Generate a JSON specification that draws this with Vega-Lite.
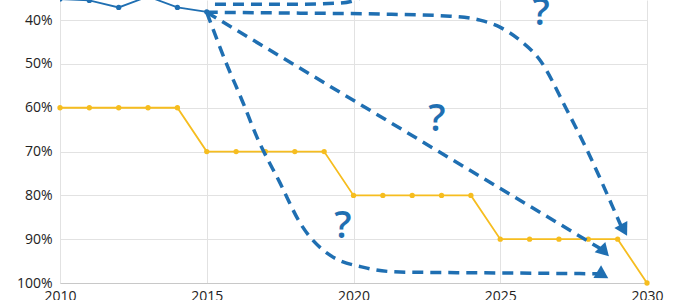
{
  "$schema": "https://vega.github.io/schema/vega-lite/v6.json",
  "width": 587,
  "height": 283,
  "autosize": {"type": "none"},
  "padding": {"left": 60, "top": 0, "right": 53, "bottom": 17},
  "background": "white",
  "config": {
    "view": {"stroke": null},
    "font": "Open Sans",
    "axis": {"labelFont": "Open Sans", "labelFontSize": 14, "labelColor": "#222222", "gridColor": "#e2e2e2", "gridWidth": 1, "ticks": false, "title": null}
  },
  "datasets": {
    "target": [
      {"year": 2010, "pct": 60}, {"year": 2011, "pct": 60}, {"year": 2012, "pct": 60}, {"year": 2013, "pct": 60}, {"year": 2014, "pct": 60},
      {"year": 2015, "pct": 70}, {"year": 2016, "pct": 70}, {"year": 2017, "pct": 70}, {"year": 2018, "pct": 70}, {"year": 2019, "pct": 70},
      {"year": 2020, "pct": 80}, {"year": 2021, "pct": 80}, {"year": 2022, "pct": 80}, {"year": 2023, "pct": 80}, {"year": 2024, "pct": 80},
      {"year": 2025, "pct": 90}, {"year": 2026, "pct": 90}, {"year": 2027, "pct": 90}, {"year": 2028, "pct": 90}, {"year": 2029, "pct": 90},
      {"year": 2030, "pct": 100}
    ],
    "actual": [
      {"year": 2010, "pct": 35.2}, {"year": 2011, "pct": 35.5}, {"year": 2012, "pct": 37.1},
      {"year": 2013, "pct": 34.6}, {"year": 2014, "pct": 37.1}, {"year": 2015, "pct": 38.1}
    ],
    "paths": [
      {"route": "A", "year": 2015.28, "pct": 36.35},
      {"route": "A", "year": 2018.18, "pct": 36.35},
      {"route": "A", "year": 2019.54, "pct": 36.1},
      {"route": "A", "year": 2020.2, "pct": 35.0},
      {"route": "A", "year": 2020.7, "pct": 32.0},
      {"route": "B", "year": 2015.0, "pct": 38.2},
      {"route": "B", "year": 2018.18, "pct": 38.4},
      {"route": "B", "year": 2020.9, "pct": 38.6},
      {"route": "B", "year": 2023.29, "pct": 39.1},
      {"route": "B", "year": 2024.31, "pct": 40.0},
      {"route": "B", "year": 2024.99, "pct": 41.6},
      {"route": "B", "year": 2025.67, "pct": 44.6},
      {"route": "B", "year": 2026.35, "pct": 49.1},
      {"route": "B", "year": 2027.27, "pct": 60.5},
      {"route": "B", "year": 2027.96, "pct": 69.7},
      {"route": "B", "year": 2028.98, "pct": 84.9},
      {"route": "B", "year": 2029.15, "pct": 87.5},
      {"route": "C", "year": 2015.0, "pct": 38.2},
      {"route": "C", "year": 2028.5, "pct": 92.5},
      {"route": "D", "year": 2015.0, "pct": 38.2},
      {"route": "D", "year": 2015.62, "pct": 49.1},
      {"route": "D", "year": 2016.24, "pct": 58.9},
      {"route": "D", "year": 2016.71, "pct": 66.7},
      {"route": "D", "year": 2017.5, "pct": 77.2},
      {"route": "D", "year": 2018.18, "pct": 86.3},
      {"route": "D", "year": 2019.1, "pct": 93.2},
      {"route": "D", "year": 2020.46, "pct": 96.6},
      {"route": "D", "year": 2021.58, "pct": 97.5},
      {"route": "D", "year": 2024.99, "pct": 97.7},
      {"route": "D", "year": 2028.4, "pct": 97.9}
    ],
    "heads": [
      {"route": "B", "year": 2029.18, "pct": 87.5},
      {"route": "C", "year": 2028.5, "pct": 92.5},
      {"route": "D", "year": 2028.43, "pct": 97.9}
    ],
    "marks": [
      {"label": "?", "year": 2026.39, "pct": 38.6},
      {"label": "?", "year": 2022.84, "pct": 62.7},
      {"label": "?", "year": 2019.64, "pct": 87.2}
    ]
  },
  "encoding": {
    "x": {"field": "year", "type": "quantitative",
      "scale": {"domain": [2010, 2030], "nice": false, "zero": false},
      "axis": {"values": [2010, 2015, 2020, 2025, 2030], "format": "d", "labelPadding": 6, "labelFlush": false, "domain": true, "domainColor": "#c8c8c8", "grid": true}},
    "y": {"field": "pct", "type": "quantitative",
      "scale": {"domain": [35.4, 100], "reverse": true, "nice": false, "zero": false},
      "axis": {"values": [40, 50, 60, 70, 80, 90, 100], "labelExpr": "datum.value + '%'", "labelPadding": 8, "labelFlush": false, "domain": false, "grid": true}}
  },
  "layer": [
    {"data": {"name": "target"}, "mark": {"type": "line", "color": "#f6bd1f", "strokeWidth": 1.8, "point": {"filled": true, "size": 28, "color": "#f6bd1f"}}},
    {"data": {"name": "actual"}, "mark": {"type": "line", "color": "#1f6fb2", "strokeWidth": 1.8, "clip": true, "point": {"filled": true, "size": 28, "color": "#1f6fb2"}}},
    {"data": {"name": "paths"}, "mark": {"type": "line", "color": "#1f6fb2", "strokeWidth": 3.5, "strokeDash": [11, 7], "interpolate": "monotone", "clip": true},
      "encoding": {"detail": {"field": "route", "type": "nominal"}}},
    {"data": {"name": "heads"}, "mark": {"type": "point", "shape": "triangle", "filled": true, "opacity": 1, "color": "#1f6fb2", "size": 220},
      "encoding": {"angle": {"field": "route", "type": "nominal", "scale": {"domain": ["B", "C", "D"], "range": [151, 121, 91]}, "legend": null}}},
    {"data": {"name": "marks"}, "mark": {"type": "text", "color": "#1f6fb2", "fontSize": 38, "fontWeight": 600, "font": "Open Sans", "align": "center", "baseline": "middle"},
      "encoding": {"text": {"field": "label", "type": "nominal"}}}
  ]
}
